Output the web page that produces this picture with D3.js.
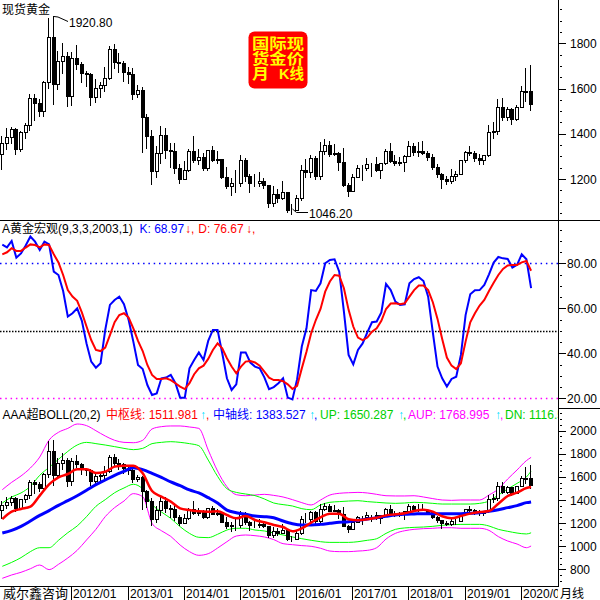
<!DOCTYPE html>
<html><head><meta charset="utf-8">
<script src="https://cdnjs.cloudflare.com/ajax/libs/d3/7.8.5/d3.min.js"></script>
<style>
html,body{margin:0;padding:0;background:#fff;}
svg{display:block;}
text{font-family:"Liberation Sans",Arial,"Noto Sans CJK SC",sans-serif;}
</style></head><body>
<svg id="c" width="600" height="600"></svg>
<script>
// ---------- DATA ----------
const months = d3.timeMonths(new Date(2010, 9, 1), new Date(2020, 3, 1)).map(d3.timeFormat("%Y/%m"));
const yearTicks = ["2012/01","2013/01","2014/01","2015/01","2016/01","2017/01","2018/01","2019/01","2020/01"];

const open = [1310,1359,1386,1421,1332,1410,1439,1556,1536,1500, 1628,1826,1620,1722,1746,1565,1737,1710,1668,1664,
 1561,1604,1614,1648,1773,1719,1713,1675,1663,1578, 1595,1476,1392,1234,1313,1395,1327,1323,1250,1201,
 1240,1326,1284,1296,1250,1327,1282,1287,1210,1171, 1183,1184,1283,1213,1183,1184,1190,1172,1095,1132,
 1115,1142,1065,1061,1117,1238,1233,1293,1215,1322, 1351,1309,1316,1277,1173,1146,1211,1249,1249,1268,
 1268,1242,1269,1322,1280,1271,1275,1303,1345,1318, 1325,1316,1299,1253,1224,1200,1192,1215,1222,1282,
 1321,1313,1292,1284,1305,1409,1413,1520,1472,1511, 1464,1517,1587,1590];
const high = [1388,1424,1431,1424,1411,1448,1576,1577,1553,1632, 1913,1920.8,1764,1803,1763,1763,1791,1719,1676,1668,
 1640,1631,1693,1787,1796,1755,1723,1694,1691,1617, 1605,1487,1417,1348,1434,1424,1361,1361,1267,1280,
 1332,1392,1331,1315,1326,1345,1322,1289,1255,1206, 1238,1308,1293,1220,1224,1232,1205,1175,1170,1157,
 1191,1143,1088,1128,1263,1287,1304,1303,1362,1375, 1367,1353,1318,1338,1181,1220,1264,1262,1295,1271,
 1296,1271,1331,1357,1306,1299,1308,1366,1361,1365, 1369,1326,1309,1265,1225,1214,1243,1237,1284,1326,
 1347,1324,1310,1306,1439,1453,1555,1557,1517,1516, 1525,1611,1689,1703];
const low = [1245,1331,1360,1309,1324,1381,1418,1462,1478,1478, 1601,1532,1600,1669,1523,1527,1688,1627,1613,1527,
 1540,1564,1588,1643,1692,1672,1635,1626,1555,1562, 1321,1338,1180,1208,1271,1292,1251,1226,1182,1200,
 1237,1277,1268,1240,1241,1281,1272,1206,1161,1131, 1142,1168,1191,1142,1170,1170,1162,1077,1080,1098,
 1113,1052,1046.2,1061,1108,1208,1207,1200,1199,1310, 1302,1305,1241,1171,1123,1146,1208,1195,1241,1214,
 1236,1204,1266,1277,1261,1264,1236,1302,1307,1303, 1310,1282,1246,1211,1160,1180,1182,1196,1221,1276,
 1304,1281,1266,1266,1300,1382,1400,1459,1459,1445, 1459,1517,1547,1505];
const close = [1360,1386,1421,1332,1410,1439,1556,1536,1500,1628, 1826,1620,1722,1746,1565,1737,1710,1668,1664,1561,
 1604,1614,1648,1773,1719,1713,1675,1663,1578,1595, 1476,1392,1234,1313,1395,1327,1323,1250,1201,1240,
 1326,1284,1296,1250,1327,1282,1287,1210,1171,1183, 1184,1283,1213,1183,1184,1190,1172,1095,1132,1115,
 1142,1065,1061,1117,1238,1233,1293,1215,1322,1351, 1309,1316,1277,1173,1146,1211,1249,1249,1268,1268,
 1242,1269,1322,1280,1271,1275,1303,1345,1318,1325, 1316,1299,1253,1224,1200,1192,1215,1222,1282,1321,
 1313,1292,1284,1305,1409,1413,1520,1472,1511,1464, 1517,1587,1585,1530];

const kValues = [88.3,87.1,89.9,82.5,84.4,87.9,91.9,89.6,85.9,89.6, 88.4,76.3,74.8,67.7,56.3,57.8,60.0,54.4,44.4,36.3,
 33.6,35.6,50.4,61.5,63.7,65.2,61.8,54.8,45.2,34.8, 33.0,25.9,21.5,22.2,28.9,29.2,30.4,26.7,20.3,20.3,
 33.3,37.0,40.4,37.0,45.5,50.4,50.4,40.0,28.9,23.7, 26.2,40.4,40.4,35.9,34.1,33.3,29.3,24.1,25.0,26.7,
 28.9,20.3,19.5,28.5,43.0,51.1,68.1,67.7,71.1,80.0, 81.5,81.8,76.3,58.5,39.3,35.1,41.5,44.4,49.3,53.8,
 54.1,58.2,70.8,68.1,63.0,61.5,61.8,71.1,73.0,73.8, 72.1,65.2,49.3,34.1,28.9,25.2,28.6,29.6,39.3,57.0,
 66.2,68.0,68.1,70.4,75.1,80.3,82.8,82.2,81.9,78.1, 79.3,84.0,81.8,68.97];
const dValues = [84.0,84.9,86.7,85.5,85.5,87.0,88.4,88.1,87.1,88.4, 88.1,84.0,80.4,74.8,68.1,65.2,63.3,58.2,51.9,45.9,
 41.5,41.0,42.5,48.1,53.8,57.0,57.8,55.9,51.1,45.5, 41.0,34.8,30.4,28.6,28.6,28.9,28.1,26.7,25.2,24.1,
 26.7,30.7,33.3,34.5,37.5,41.5,44.4,42.2,37.8,34.1, 31.1,34.1,36.3,36.6,35.9,34.5,31.9,29.2,28.1,28.1,
 27.6,26.2,24.1,25.5,33.3,40.7,48.9,54.8,59.7,67.4, 71.9,74.8,74.5,68.9,59.3,51.9,47.0,45.9,47.0,49.6,
 51.1,54.4,59.7,62.1,62.2,61.8,62.2,65.2,68.1,70.1, 70.1,68.1,62.7,55.3,46.4,38.1,34.5,33.0,35.6,45.2,
 53.8,57.8,61.2,63.7,67.7,71.4,74.8,77.5,79.0,79.3, 79.3,80.4,81.0,76.67];

// BOLL lines, read every second month (plus the last month)
const bollMonths = months.filter((m, i) => i % 2 === 0 || i === months.length - 1);
const midLine = [1235,1299,1322,1342,1438,1536,1596,1625,1666,1666, 1634,1645,1689,1697,1697,1631,1478,1429,1386,1328,
 1313,1302,1299,1302,1270,1241,1261,1227,1207,1184, 1166,1129,1155,1204,1250,1282,1282,1233,1224,1233,
 1247,1267,1276,1285,1305,1316,1299,1259,1241,1261, 1282,1296,1305,1368,1435,1463,1504,1512];
const axisLine = [1114,1137,1172,1218,1267,1308,1354,1394,1437,1484, 1533,1573,1614,1648,1680,1663,1631,1596,1556,1524,
 1487,1461,1420,1374,1313,1290,1276,1261,1256,1247, 1218,1195,1184,1184,1189,1198,1207,1212,1224,1235,
 1247,1259,1270,1276,1279,1282,1282,1282,1282,1282, 1285,1290,1302,1316,1334,1351,1377,1383.5];
const upLine = [1374,1426,1461,1518,1614,1683,1752,1821,1876,1899, 1888,1876,1862,1847,1836,1847,1888,1899,1905,1899,
 1888,1870,1746,1605,1498,1466,1452,1438,1409,1374, 1360,1348,1325,1316,1357,1380,1386,1391,1394,1386,
 1380,1374,1371,1374,1380,1377,1371,1365,1365,1365, 1365,1371,1391,1443,1495,1544,1599,1650.3];
const aupLine = [1489,1553,1608,1677,1772,1919,1986,2020,2058,2044, 2000,1954,1917,1899,1896,1917,2015,2035,2041,2041,
 2032,2020,1833,1651,1515,1446,1437,1443,1449,1440, 1426,1403,1377,1357,1400,1443,1458,1463,1466,1461,
 1449,1437,1435,1435,1437,1426,1412,1400,1397,1400, 1400,1400,1443,1495,1582,1660,1741,1769];
const dnLine = [826,860,901,953,987,987,1051,1117,1175,1256, 1345,1403,1463,1504,1536,1495,1362,1296,1241,1169,
 1111,1077,1074,1103,1140,1155,1155,1140,1132,1114, 1097,1080,1065,1051,1039,1033,1033,1033,1039,1051,
 1065,1111,1146,1158,1163,1166,1172,1181,1186,1189, 1189,1189,1175,1146,1129,1114,1106,1116];
const adnLine = [722,751,774,805,837,797,843,898,964,1054, 1146,1256,1334,1391,1455,1429,1198,1134,1085,1010,
 953,921,935,984,1039,1088,1097,1091,1080,1057, 1022,1013,1005,999,982,958,953,953,958,964,
 987,1062,1111,1134,1146,1152,1155,1160,1160,1155, 1155,1155,1137,1083,1045,1019,987,1002];

const topTicks = [1200,1400,1600,1800];
const kdjTicks = [20,40,60,80];
const bollTicks = [800,1000,1200,1400,1600,1800,2000];

// ---------- CHART ----------
const svg = d3.select("#c");
const AX = 558;
const x = d3.scalePoint().domain(months).range([2.3, 531.1]);
const yTop = d3.scaleLinear().domain([1200,1800]).range([179,43.3]);
const yK = d3.scaleLinear().domain([20,80]).range([398.3,263.3]);
const yB = d3.scaleLinear().domain([800,2000]).range([569.3,430.7]);

const defs = svg.append("defs");
function clip(id, y0, h){ defs.append("clipPath").attr("id",id).append("rect").attr("x",0).attr("y",y0).attr("width",AX).attr("height",h); }
clip("cTop",0,220); clip("cK",221,184); clip("cB",409,177);

const px = m => Math.round(x(m));

function drawCandles(g, y){
  const d = months.map((m,i)=>({m,o:open[i],h:high[i],l:low[i],c:close[i]}));
  const gg = g.selectAll("g.cd").data(d).join("g").attr("class","cd").attr("shape-rendering","crispEdges");
  gg.append("line")
    .attr("x1", d=>px(d.m)-0.5).attr("x2", d=>px(d.m)-0.5)
    .attr("y1", d=>Math.round(y(d.h))).attr("y2", d=>Math.round(y(d.l))+1)
    .attr("stroke","#000");
  gg.append("rect")
    .attr("x", d=>px(d.m)-1.5)
    .attr("y", d=>Math.round(y(Math.max(d.o,d.c)))+0.5)
    .attr("width",3)
    .attr("height", d=>Math.max(0, Math.round(y(Math.min(d.o,d.c))) - Math.round(y(Math.max(d.o,d.c)))))
    .attr("fill", d=> d.c>=d.o ? "#fff" : "#000")
    .attr("stroke","#000");
}

// top panel
const gTop = svg.append("g").attr("clip-path","url(#cTop)");
drawCandles(gTop, yTop);

// annotations
svg.append("path").attr("d","M54,16.5 L58,17 L68,21.5").attr("fill","none").attr("stroke","#000");
svg.append("text").attr("x",69).attr("y",26.5).attr("font-size",12).attr("fill","#000").text("1920.80");
svg.append("path").attr("d","M292.5,209 L296.5,212.5 L308,212.5").attr("fill","none").attr("stroke","#000");
svg.append("text").attr("x",309).attr("y",217.5).attr("font-size",12).attr("fill","#000").text("1046.20");
svg.append("text").attr("x",2).attr("y",13.5).attr("font-size",12).attr("fill","#000").text("现货黄金");

// badge
svg.append("rect").attr("x",248.5).attr("y",31.5).attr("width",59).attr("height",57).attr("rx",6).attr("fill","#ff0000");
const bdg = svg.append("g").attr("fill","#ffff00").attr("font-weight","bold").attr("font-size",14.5)
  .style("font-family","'Noto Sans CJK SC',sans-serif");
bdg.append("text").attr("x",252).attr("y",49).attr("textLength",52).attr("lengthAdjust","spacingAndGlyphs").text("国际现");
bdg.append("text").attr("x",252).attr("y",64).attr("textLength",52).attr("lengthAdjust","spacingAndGlyphs").text("货金价");
bdg.append("text").attr("x",252).attr("y",79).attr("textLength",17).attr("lengthAdjust","spacingAndGlyphs").text("月");
bdg.append("text").attr("x",279).attr("y",79).attr("textLength",25).attr("lengthAdjust","spacingAndGlyphs").text("K线");

// panel separators & axis line
const lines = svg.append("g").attr("stroke","#000").attr("shape-rendering","crispEdges");
lines.append("line").attr("x1",0).attr("x2",600).attr("y1",220.5).attr("y2",220.5);
lines.append("line").attr("x1",AX).attr("x2",600).attr("y1",408.5).attr("y2",408.5);
lines.append("line").attr("x1",0).attr("x2",AX).attr("y1",586.5).attr("y2",586.5);
lines.append("line").attr("x1",AX+0.5).attr("x2",AX+0.5).attr("y1",0).attr("y2",587);

// right axes
function rightAxis(y, ticks, minor, fmt){
  const g = svg.append("g");
  g.selectAll("line.mn").data(minor).join("line").attr("class","mn").attr("shape-rendering","crispEdges")
    .attr("x1",AX+2).attr("x2",AX+4).attr("y1",d=>Math.round(y(d))+0.5).attr("y2",d=>Math.round(y(d))+0.5).attr("stroke","#000");
  g.selectAll("line.mj").data(ticks).join("line").attr("class","mj").attr("shape-rendering","crispEdges")
    .attr("x1",AX+1).attr("x2",AX+8).attr("y1",d=>Math.round(y(d))+0.5).attr("y2",d=>Math.round(y(d))+0.5).attr("stroke","#000");
  g.selectAll("text").data(ticks).join("text")
    .attr("x", fmt ? AX+9 : AX+12).attr("y",d=>y(d)+4.5).attr("font-size",12).attr("fill","#000")
    .text(d=> fmt ? d3.format(".2f")(d) : d);
}
rightAxis(yTop, topTicks, d3.range(1050,1991,50).filter(v=>!topTicks.includes(v)), false);
rightAxis(yK, kdjTicks, d3.range(25,96,5).filter(v=>!kdjTicks.includes(v)), true);
rightAxis(yB, bollTicks, d3.range(700,2201,50).filter(v=>!bollTicks.includes(v) && yB(v)>410 && yB(v)<585), false);

// KDJ panel
const gK = svg.append("g").attr("clip-path","url(#cK)");
[[80,"#0000ff","1.5,3.8"],[50,"#000","1.5,1.5"],[20,"#ff00ff","1.5,3.8"]].forEach(([v,c,da])=>{
  gK.append("line").attr("x1",0).attr("x2",AX).attr("y1",Math.round(yK(v))+0.5).attr("y2",Math.round(yK(v))+0.5)
    .attr("stroke",c).attr("stroke-width",1.3).attr("stroke-dasharray",da);
});
const lineK = d3.line().x((d,i)=>x(months[i])).y(d=>yK(d));
gK.append("path").attr("d",lineK(kValues)).attr("fill","none").attr("stroke","#0000ff").attr("stroke-width",2);
gK.append("path").attr("d",lineK(dValues)).attr("fill","none").attr("stroke","#ff0000").attr("stroke-width",2);

const tK = svg.append("text").attr("y",233).attr("font-size",12);
tK.append("tspan").attr("x",2).attr("fill","#000").text("A黄金宏观(9,3,3,2003,1)");
tK.append("tspan").attr("x",139.5).attr("fill","#0000ff").text("K: 68.97");
tK.append("tspan").attr("x",185).attr("fill","#ff0000").text("↓");
tK.append("tspan").attr("x",191).attr("fill","#ff0000").text(",");
tK.append("tspan").attr("x",198.3).attr("fill","#ff0000").text("D: 76.67");
tK.append("tspan").attr("x",246).attr("fill","#ff0000").text("↓");
tK.append("tspan").attr("x",252).attr("fill","#ff0000").text(",");

// BOLL panel
const gB = svg.append("g").attr("clip-path","url(#cB)");
const lineB = d3.line().curve(d3.curveMonotoneX).x((d,i)=>x(bollMonths[i])).y(d=>yB(d));
[[aupLine,"#ff00ff",1],[adnLine,"#ff00ff",1],[upLine,"#00ff00",1],[dnLine,"#00ff00",1]].forEach(([arr,c,w])=>{
  gB.append("path").attr("d",lineB(arr)).attr("fill","none").attr("stroke",c).attr("stroke-width",w);
});
drawCandles(gB, yB);
gB.append("path").attr("d",lineB(axisLine)).attr("fill","none").attr("stroke","#0000ff").attr("stroke-width",3);
gB.append("path").attr("d",lineB(midLine)).attr("fill","none").attr("stroke","#ff0000").attr("stroke-width",2.5);

defs.append("clipPath").attr("id","cT2").append("rect").attr("x",0).attr("y",405).attr("width",AX).attr("height",20);
const tB = svg.append("text").attr("y",419).attr("font-size",12).attr("clip-path","url(#cT2)");
const cyan = "#00e0ff", green = "#00d000";
[["AAA超BOLL(20,2)",2.5,"#000"],["中枢线: 1511.981",106,"#ff0000"],["↑",200,cyan],[",",206,"#ff0000"],
 ["中轴线: 1383.527",213,"#0000ff"],["↑",309,cyan],[",",314,"#0000ff"],
 ["UP: 1650.287",320,green],["↑",398,cyan],[",",403,green],
 ["AUP: 1768.995",408,"#ff00ff"],["↑",495,cyan],[",",500,"#ff00ff"],
 ["DN: 1116.579",505,green]].forEach(([t,xx,c])=>{
  tB.append("tspan").attr("x",xx).attr("fill",c).text(t);
});

// date axis
defs.append("clipPath").attr("id","cD").append("rect").attr("x",0).attr("y",586).attr("width",AX).attr("height",14);
const gD = svg.append("g").attr("clip-path","url(#cD)");
gD.selectAll("line").data(yearTicks).join("line")
  .attr("x1",d=>px(d)-0.5).attr("x2",d=>px(d)-0.5).attr("y1",587).attr("y2",600)
  .attr("stroke","#000").attr("shape-rendering","crispEdges");
gD.selectAll("text").data(yearTicks).join("text")
  .attr("x",d=>px(d)+1).attr("y",598).attr("font-size",12).attr("fill","#000").text(d=>d);
svg.append("text").attr("x",3).attr("y",598).attr("font-size",13).attr("fill","#000").text("威尔鑫咨询");
svg.append("text").attr("x",560).attr("y",598).attr("font-size",12).attr("fill","#000").text("月线");
</script></body></html>
